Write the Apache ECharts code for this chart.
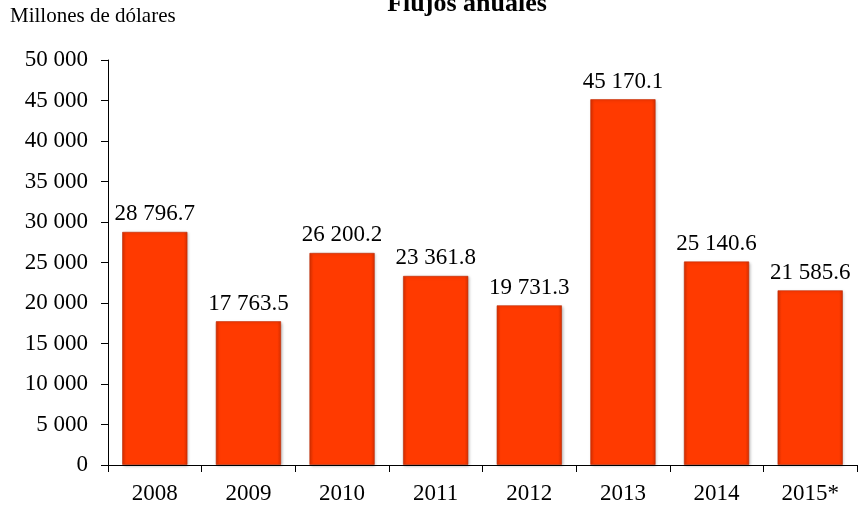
<!DOCTYPE html>
<html><head><meta charset="utf-8">
<script src="https://cdn.jsdelivr.net/npm/echarts@6/dist/echarts.min.js"></script>
<style>html,body{margin:0;padding:0;background:#fff}#c{width:862px;height:506px}</style>
</head><body><div id="c"></div>
<script>
const categories = ['2008','2009','2010','2011','2012','2013','2014','2015*'];
const values = [28796.7, 17763.5, 26200.2, 23361.8, 19731.3, 45170.1, 25140.6, 21585.6];
const labels = ['28 796.7','17 763.5','26 200.2','23 361.8','19 731.3','45 170.1','25 140.6','21 585.6'];
const chart = echarts.init(document.getElementById('c'));
const font = 'Liberation Serif';
function fmt(v){return String(v).replace(/\B(?=(\d{3})+(?!\d))/g,' ');}
chart.setOption({
  animation:false,
  title:{text:'Flujos anuales',left:462,textAlign:'center',top:-14,textStyle:{fontFamily:font,fontSize:26,fontWeight:'bold',color:'#000'}},
  graphic:[{type:'text',left:10,top:6,style:{text:'Millones de dólares',fontFamily:font,fontSize:21,fill:'#000'}}],
  grid:{left:108,right:5,top:60,bottom:41,containLabel:false},
  xAxis:{type:'category',data:categories,
    axisLine:{lineStyle:{color:'#000',width:1}},
    axisTick:{show:true,length:7,lineStyle:{color:'#000'}},
    axisLabel:{fontFamily:font,fontSize:23,color:'#000',margin:17}},
  yAxis:{type:'value',min:0,max:50000,interval:5000,
    axisLine:{show:true,lineStyle:{color:'#000'}},
    axisTick:{show:true,length:7,lineStyle:{color:'#000'}},
    splitLine:{show:false},
    axisLabel:{fontFamily:font,fontSize:23,color:'#000',margin:20,formatter:fmt}},
  series:[{type:'bar',data:values,barWidth:'70%',
    itemStyle:{
      color:new echarts.graphic.LinearGradient(0,0,1,0,[
        {offset:0,color:'#D83000'},{offset:0.06,color:'#FF3A00'},{offset:0.94,color:'#FF3A00'},{offset:1,color:'#D83000'}]),
      borderColor:'rgba(190,40,0,0.6)',borderWidth:1,
      shadowColor:'rgba(0,0,0,0.25)',shadowBlur:3,shadowOffsetX:1,shadowOffsetY:1},
    label:{show:true,position:'top',distance:6,fontFamily:font,fontSize:23,color:'#000',
      formatter:p=>labels[p.dataIndex]}}]
});
</script></body></html>
